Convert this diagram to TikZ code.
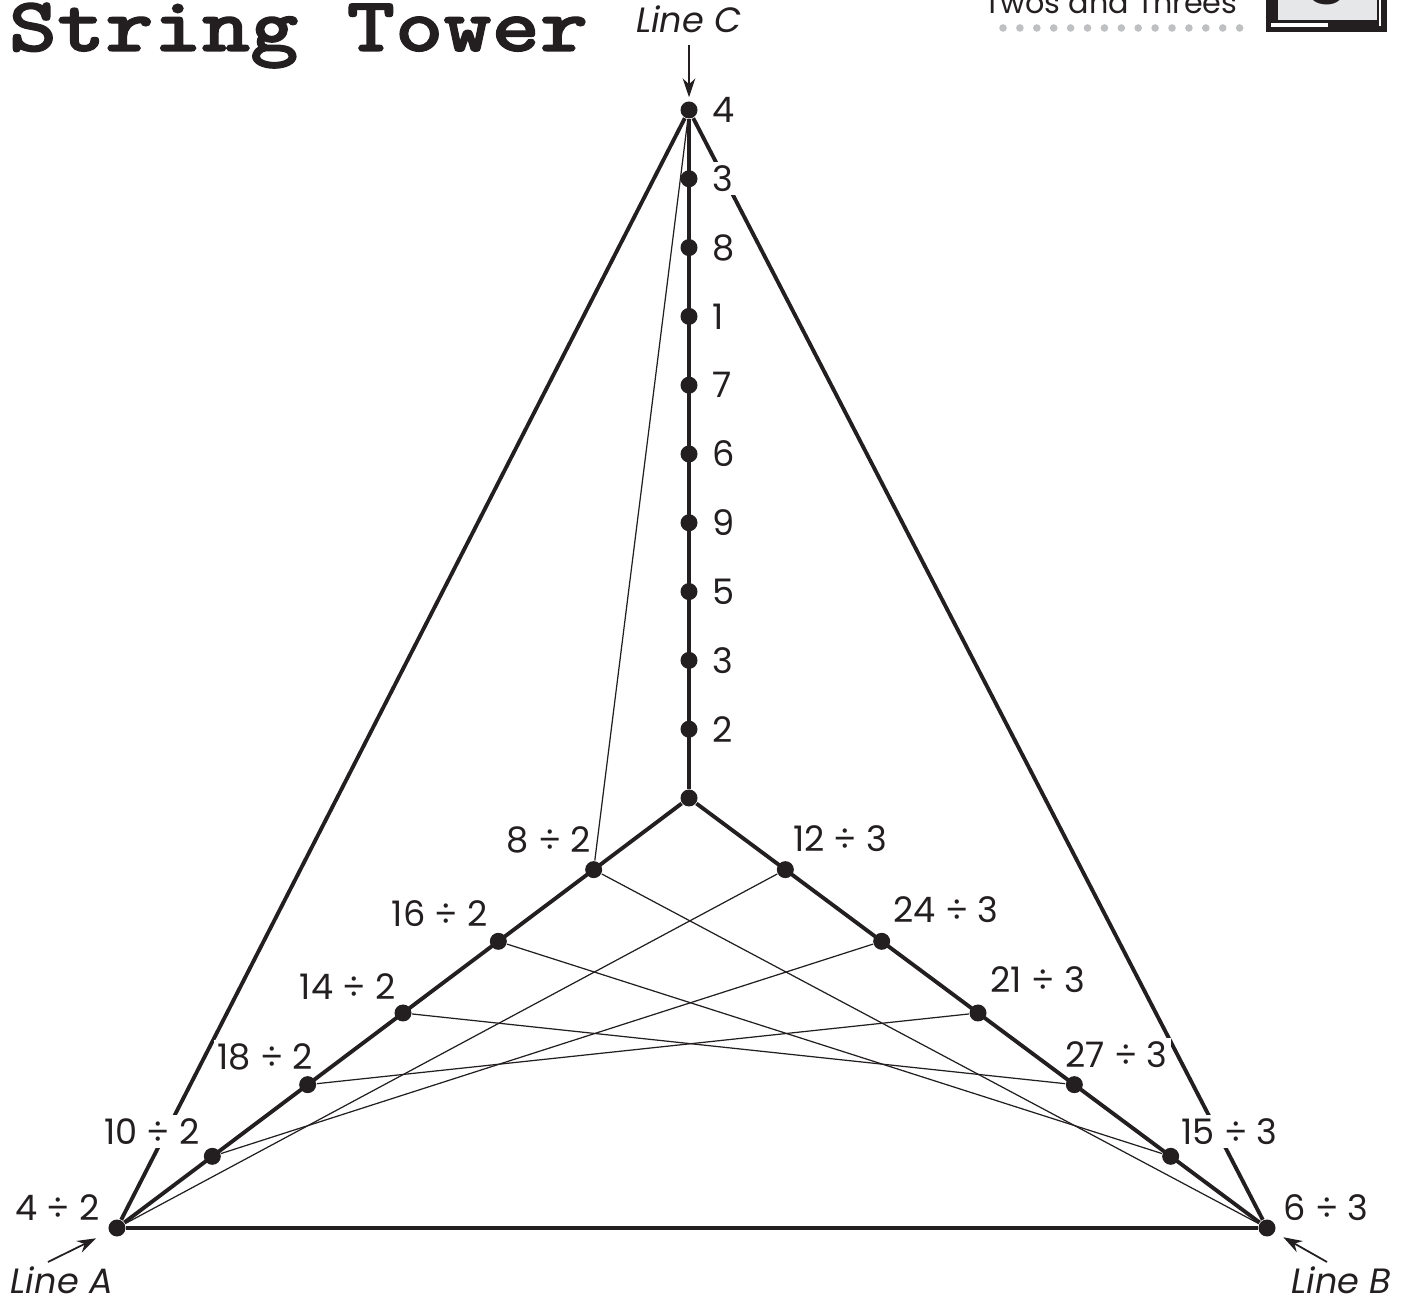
\documentclass[tikz,border=0pt]{standalone}
\usepackage{fontspec}
\setmainfont{Poppins}
\newfontfamily\titlefont[FakeStretch=1.19,FakeBold=1.6]{lmmonolt10-bold.otf}
\usetikzlibrary{arrows.meta,calc}
\definecolor{ink}{HTML}{231F20}
\definecolor{dotgray}{HTML}{BFC0C2}
\definecolor{screen}{HTML}{E6E7E8}

\begin{document}
\begin{tikzpicture}[dot/.style={circle,fill=ink,inner sep=0pt,minimum size=1.7mm},frame/.style={ink,line width=1.1pt},thread/.style={ink,line width=0.35pt},num/.style={font=\fontsize{10}{12}\selectfont,text=ink,fill=white,inner sep=1pt},tag/.style={font=\fontsize{10}{12}\selectfont\itshape,text=ink,inner sep=0pt},>={Stealth[length=5.4pt,width=3.6pt]}]
\useasboundingbox (-6.89,-5.02) rectangle (7.18,7.98);
\node[anchor=base west,inner sep=0pt,text=ink,font=\titlefont\fontsize{22}{26}\selectfont] (title) at (-6.81,7.47) {String Tower};
\node[anchor=base east,inner sep=0pt,text=ink,font=\fontsize{8.6}{10}\selectfont] (subtitle) at (5.49,7.84) {Twos and Threes};
\foreach \i in {0,...,14}
  \fill[dotgray] ({3.14+0.169*\i},7.70) circle (0.038);
\fill[ink] (5.77,7.66) rectangle (6.98,8.2);
\fill[screen] (5.89,7.78) rectangle (6.88,8.2);
\draw[white,line width=0.9pt] (5.82,7.73) -- (6.39,7.73);
\draw[white,line width=0.6pt] (6.91,7.72) -- (6.91,8.2);
\node[anchor=base,inner sep=0pt,text=ink,font=\bfseries\fontsize{20}{24}\selectfont] (badge) at (6.38,7.93) {3};
\node[dot] (hub) at (0,0) {};
\foreach \k in {0,...,9}
  \node[dot] (c\k) at (0,{6.88-0.688*\k}) {};
\foreach \i in {1,...,6}{
  \node[dot] (a\i) at ($(hub)!\i/6!(-5.72,-4.30)$) {};
  \node[dot] (b\i) at ($(hub)!\i/6!(5.78,-4.30)$) {};
}
\draw[frame] (c0) -- (a6) -- (b6) -- (c0);
\draw[frame] (c0) -- (hub);
\draw[frame] (a6) -- (hub) -- (b6);
\draw[thread] (a1) -- (c0);
\foreach \i/\j in {1/6,2/5,3/4,4/3,5/2,6/1}
  \draw[thread] (a\i) -- (b\j);
\foreach \v [count=\k from 0] in {4,3,8,1,7,6,9,5,3,2}
  \node[num,anchor=west] (lc\k) at ([xshift=1.9mm]c\k) {\v};
\foreach \t/\dx/\dy [count=\i] in {8/0.15/1.7,16/-0.65/1.5,14/-0.35/1.3,18/0.95/1.5,10/-0.85/1.2,4/-1.35/0.8}
  \node[num,anchor=base east] (la\i) at ([xshift=\dx mm,yshift=\dy mm]a\i) {\t\ ÷ 2};
\foreach \t/\dx/\dy [count=\i] in {12/0.35/1.8,24/0.75/1.9,21/0.85/2.0,27/-1.3/1.7,15/0.65/1.2,6/1.25/0.8}
  \node[num,anchor=base west] (lb\i) at ([xshift=\dx mm,yshift=\dy mm]b\i) {\t\ ÷ 3};
\node[tag,anchor=base] (lineC) at (0,7.65) {Line C};
\node[tag,anchor=base west] (lineA) at (-6.79,-4.95) {Line A};
\node[tag,anchor=base east] (lineB) at (7.03,-4.95) {Line B};
\coordinate (tailC) at (0,7.53);
\coordinate (tailA) at (-6.41,-4.64);
\coordinate (tailB) at (6.38,-4.64);
\draw[->,ink,line width=0.5pt,shorten >=1pt] (tailC) -- (c0);
\draw[->,ink,line width=0.5pt,shorten >=4pt] (tailA) -- (a6);
\draw[->,ink,line width=0.5pt,shorten >=2.7pt] (tailB) -- (b6);
\end{tikzpicture}
\end{document}
